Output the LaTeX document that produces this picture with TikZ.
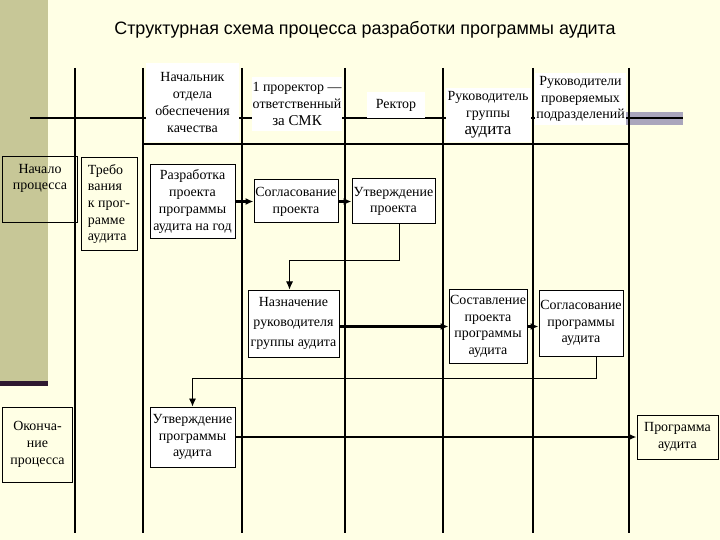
\documentclass[tikz,border=0pt]{standalone}
\usepackage{fontspec}
\setmainfont{Liberation Serif}
\newfontfamily\titlefont{Liberation Sans}
\usetikzlibrary{arrows.meta, positioning}
\definecolor{paper}{RGB}{255,255,229}
\definecolor{olivebar}{RGB}{199,199,151}
\definecolor{plumline}{RGB}{46,24,48}
\definecolor{greyband}{RGB}{170,166,188}
\newcommand{\boxfont}{\fontsize{14}{16.8}\selectfont}
\tikzset{
    lanehead/.style={fill=white, inner sep=1bp, align=center, font=\boxfont},
    stagebox/.style={draw, line width=1bp, fill=white, align=center, font=\boxfont, inner sep=1bp},
    termbox/.style={draw, line width=1bp, align=center, font=\boxfont, inner sep=1bp},
    flow/.style={draw, line width=2.2bp, -{Latex[length=8bp, width=7bp]}},
    link/.style={draw, line width=0.9bp, -{Latex[length=8bp, width=7bp]}},
    laneline/.style={line width=1.3bp},
}

\begin{document}
\begin{tikzpicture}[x=1bp, y=-1bp]
    \fill[paper] (0,0) rectangle (720,540);
    \useasboundingbox (0,0) rectangle (720,540);
    \fill[olivebar] (0,0) rectangle (48,381);
    \fill[plumline] (0,381) rectangle (48,386);
    \fill[greyband] (623,112) rectangle (683,125);
    \node[font=\titlefont\fontsize{18}{21}\selectfont] (title) at (365,30) {Структурная схема процесса разработки программы аудита};

    \draw[line width=2bp] (30,118) -- (683,118);
    \foreach \x in {75,143,242,345,443,533,629}
        \draw[laneline] (\x,68) -- (\x,533);
    \draw[laneline] (143,144) -- (629,144);

    \node[lanehead, minimum width=93bp, minimum height=79bp] (quality) at (192.5,102.5) {Начальник\\отдела\\обеспечения\\качества};
    \node[lanehead, minimum width=90bp, minimum height=54bp] (vicerector) at (297,104) {1 проректор —\\ответственный\\{\fontsize{15}{19}\selectfont за СМК}};
    \node[lanehead, minimum width=58bp, minimum height=26bp] (rector) at (396,105) {Ректор};
    \node[lanehead, minimum width=85bp, minimum height=54bp, inner sep=0bp] (leader) at (488,115) {Руководитель\\группы\\{\fontsize{17}{19}\selectfont аудита}};
    \node[lanehead, minimum width=91bp, minimum height=52bp, inner sep=0bp] (units) at (580.5,99) {Руководители\\проверяемых\\подразделений};

    \node[termbox, minimum width=74bp, minimum height=66bp,
        label={[align=center, font=\boxfont, anchor=north, yshift=-4bp]north:{Начало\\процесса}}] (start) at (40,190) {};
    \node[termbox, minimum width=56bp, minimum height=92bp, align=left] (needs) at (109,204) {Требо\\вания\\к прог-\\рамме\\аудита};
    \node[stagebox, minimum width=85bp, minimum height=73bp] (draft) at (192.5,201.5) {Разработка\\проекта\\программы\\аудита на год};
    \node[stagebox, minimum width=84bp, minimum height=43bp] (agree) at (296,201.5) {Согласование\\проекта};
    \node[stagebox, minimum width=83bp, minimum height=45bp] (approve) at (393.5,201.5) {Утверждение\\проекта};
    \node[stagebox, minimum width=91bp, minimum height=67bp, font=\fontsize{14}{20}\selectfont] (assign) at (293.5,323.5) {Назначение\\руководителя\\группы аудита};
    \node[stagebox, minimum width=78bp, minimum height=73bp] (compose) at (488,326.5) {Составление\\проекта\\программы\\аудита};
    \node[stagebox, minimum width=84bp, minimum height=66bp] (agreeprog) at (581,323) {Согласование\\программы\\аудита};
    \node[stagebox, minimum width=85bp, minimum height=60bp] (approveprog) at (192.5,437) {Утверждение\\программы\\аудита};
    \node[termbox, minimum width=69bp, minimum height=75bp] (finish) at (37.5,444.5) {Оконча-\\ние\\процесса};
    \node[termbox, minimum width=81bp, minimum height=44bp] (result) at (677.5,437) {Программа\\аудита};

    \draw[flow] (draft) -- (agree);
    \draw[flow] (agree) -- (approve);
    \draw[link] ([xshift=6bp]approve.south) -- ++(0,36) -| ([xshift=-4bp]assign.north);
    \draw[flow] (compose.west -| assign.east) -- (compose.west);
    \draw[flow] (compose.east) -- (compose.east -| agreeprog.west);
    \draw[link] ([xshift=15bp]agreeprog.south) -- ++(0,22) -| (approveprog.north);
    \draw[flow] (approveprog) -- (result);
\end{tikzpicture}
\end{document}
